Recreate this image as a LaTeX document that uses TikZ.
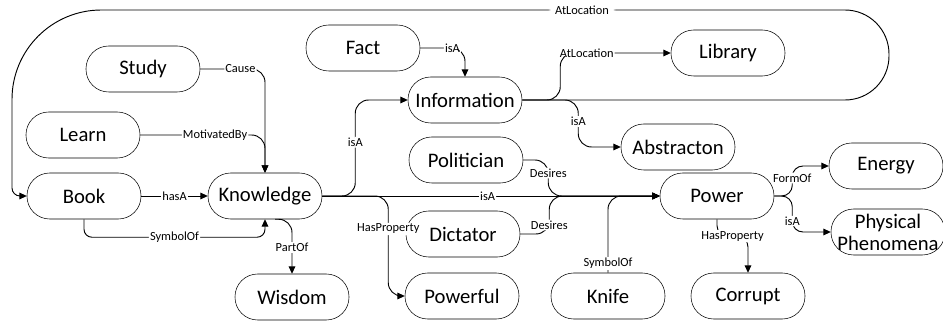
\documentclass[tikz,border=0pt]{standalone}
\usepackage{fontspec}
\setmainfont{Carlito}
\usetikzlibrary{arrows.meta}
\tikzset{concept/.style = {draw, rectangle, rounded corners = 17pt, minimum width = 85.5pt, minimum height = 34.5pt, inner sep = 0, align = center, font = \fontsize{15.5}{16.5}\selectfont}}
\tikzset{rel/.style = {fill = white, inner sep = 0.8pt, font = \fontsize{9.3}{10}\selectfont}}
\tikzset{link/.style = {line width = 0.7pt, -{Triangle[length = 5.5pt, width = 5pt]}, rounded corners = 10pt}}

\begin{document}
\begin{tikzpicture}[x = 0.75pt, y = -0.75pt]
      \useasboundingbox (0, 0) rectangle (943, 324);
      % concepts
      \node [concept] (study) at (143, 69) {Study};
      \node [concept] (learn) at (83, 135) {Learn};
      \node [concept] (book) at (84, 196) {Book};
      \node [concept] (knowledge) at (265, 196) {Knowledge};
      \node [concept] (wisdom) at (292, 297) {Wisdom};
      \node [concept] (fact) at (363, 48) {Fact};
      \node [concept] (information) at (465, 100) {Information};
      \node [concept] (politician) at (466, 160) {Politician};
      \node [concept] (dictator) at (463, 234) {Dictator};
      \node [concept] (powerful) at (462, 296) {Powerful};
      \node [concept] (knife) at (608, 296) {Knife};
      \node [concept] (library) at (728, 53) {Library};
      \node [concept] (abstracton) at (678, 147) {Abstracton};
      \node [concept] (power) at (717, 196) {Power};
      \node [concept] (energy) at (886, 166) {Energy};
      \node [concept] (phenomena) at (888, 232) {Physical\\Phenomena};
      \node [concept] (corrupt) at (748, 296) {Corrupt};

      % relations
      \draw [link, rounded corners = 33pt] (information.east) -- (889, 100) -- (889, 10)
        [rounded corners = 67pt] -- node [rel, pos = 0.35] {AtLocation} (12, 10)
        [rounded corners = 6pt] -- (12, 196) -- (book.west);
      \draw [link] (information.east) -- ++(38, 0) |- node [rel, pos = 0.62] {AtLocation} (library.west);
      \draw [link] (information.east) -- ++(56, 0) |- node [rel, pos = 0.23] {isA} (abstracton.west);
      \draw [link] (fact.east) -| node [rel, pos = 0.36] {isA} (information.north);
      \draw [link] (study.east) -| node [rel, pos = 0.31] {Cause} (knowledge.north);
      \draw [link] (learn.east) -| node [rel, pos = 0.3] {MotivatedBy} (knowledge.north);
      \draw [link] (book.east) -- node [rel] {hasA} (knowledge.west);
      \draw [link, rounded corners = 6pt] (book.south) -- ++(0, 18) -| node [rel, pos = 0.25] {SymbolOf} (knowledge.south);
      \draw [link] ([xshift = 7.5pt] knowledge.south) -| node [rel, pos = 0.76] {PartOf} (wisdom.north);
      \draw [link] (knowledge.east) -- ++(33, 0) |- node [rel, pos = 0.28] {isA} (information.west);
      \draw [link] (knowledge.east) -- node [rel, pos = 0.49] {isA} (power.west);
      \draw [link] (knowledge.east) -- ++(66, 0) |- node [rel, pos = 0.165] {HasProperty} (powerful.west);
      \draw [link] (politician.east) -- ++(25, 0) |- node [rel, pos = 0.18] {Desires} (power.west);
      \draw [link] (dictator.east) -- ++(29, 0) |- node [rel, pos = 0.12] {Desires} (power.west);
      \draw [link] (knife.north) |- node [rel, pos = 0.06] {SymbolOf} (power.west);
      \draw [link, rounded corners = 8pt] (power.east) -- ++(18, 0) |- node [rel, pos = 0.3] {FormOf} (energy.west);
      \draw [link, rounded corners = 8pt] (power.east) -- ++(18, 0) |- node [rel, pos = 0.35] {isA} (phenomena.west);
      \draw [link, rounded corners = 8pt] (power.south) -- ++(0, 17) -| node [rel, pos = 0.25] {HasProperty} (corrupt.north);
    \end{tikzpicture}
\end{document}
